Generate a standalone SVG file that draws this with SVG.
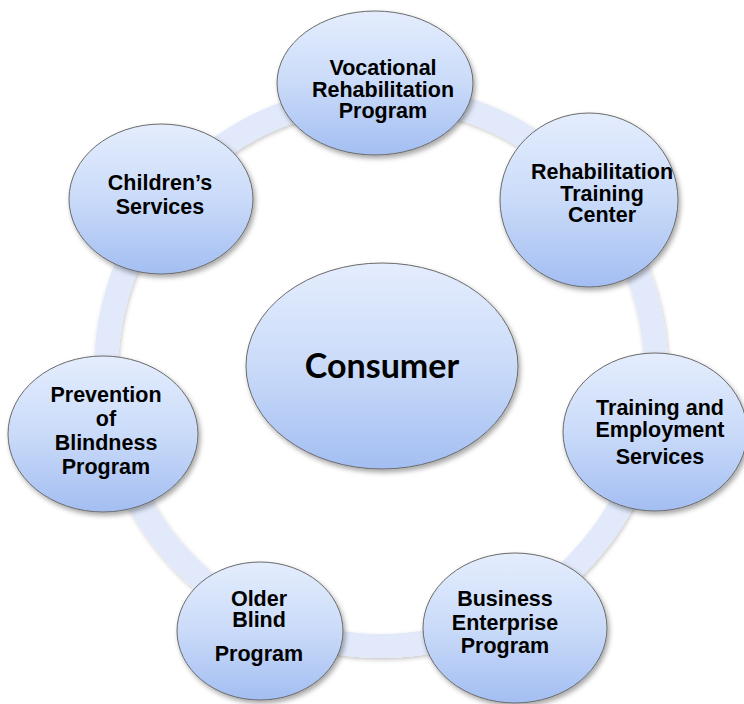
<svg xmlns="http://www.w3.org/2000/svg" width="744" height="704" viewBox="0 0 744 704">
<defs>
<linearGradient id="g" x1="0" y1="0" x2="0" y2="1">
<stop offset="0" stop-color="#e4edfd"/>
<stop offset="0.5" stop-color="#cadbf9"/>
<stop offset="1" stop-color="#a3bef2"/>
</linearGradient>
<filter id="sh" x="-20%" y="-20%" width="140%" height="140%">
<feDropShadow dx="2" dy="3" stdDeviation="2.5" flood-color="#000" flood-opacity="0.35"/>
</filter>
<filter id="rs" x="-10%" y="-10%" width="120%" height="120%">
<feDropShadow dx="1" dy="2" stdDeviation="2" flood-color="#000" flood-opacity="0.22"/>
</filter>
</defs>
<style>
.n{fill:url(#g);stroke:#6a6a6a;stroke-width:1;filter:url(#sh)}
.t{font-family:"Liberation Sans",Arial,sans-serif;font-weight:bold;font-size:21.5px;fill:#000;text-anchor:middle}
.c{font-family:Lato,"Open Sans",sans-serif;font-weight:bold;font-size:34px;fill:#000;text-anchor:middle}
</style>
<rect width="744" height="704" fill="#fff"/>
<g id="connectors">
<circle cx="381" cy="371" r="275" fill="none" stroke="#e1e9fb" stroke-width="24" filter="url(#rs)"/>
</g>
<g id="consumer">
<ellipse class="n" cx="382" cy="366" rx="136" ry="103"/>
<text class="c" x="382" y="378">Consumer</text>
</g>
<g id="vocational">
<ellipse class="n" cx="375" cy="83" rx="98" ry="72"/>
<text class="t" x="383" y="75">Vocational</text>
<text class="t" x="383" y="97">Rehabilitation</text>
<text class="t" x="383" y="118">Program</text>
</g>
<g id="rehab-training">
<ellipse class="n" cx="589" cy="200" rx="89" ry="87"/>
<text class="t" x="602" y="179">Rehabilitation</text>
<text class="t" x="602" y="201">Training</text>
<text class="t" x="602" y="222">Center</text>
</g>
<g id="training-employment">
<ellipse class="n" cx="655" cy="432" rx="92" ry="79"/>
<text class="t" x="660" y="415">Training and</text>
<text class="t" x="660" y="437">Employment</text>
<text class="t" x="660" y="464">Services</text>
</g>
<g id="business">
<ellipse class="n" cx="515" cy="628" rx="92" ry="75"/>
<text class="t" x="505" y="606">Business</text>
<text class="t" x="505" y="630">Enterprise</text>
<text class="t" x="505" y="653">Program</text>
</g>
<g id="older-blind">
<ellipse class="n" cx="260" cy="631" rx="83" ry="69"/>
<text class="t" x="259" y="606">Older</text>
<text class="t" x="259" y="627">Blind</text>
<text class="t" x="259" y="661">Program</text>
</g>
<g id="prevention">
<ellipse class="n" cx="103" cy="434" rx="95" ry="78"/>
<text class="t" x="106" y="402">Prevention</text>
<text class="t" x="106" y="426">of</text>
<text class="t" x="106" y="450">Blindness</text>
<text class="t" x="106" y="474">Program</text>
</g>
<g id="childrens">
<ellipse class="n" cx="161" cy="199" rx="92" ry="75"/>
<text class="t" x="160" y="190">Children’s</text>
<text class="t" x="160" y="214">Services</text>
</g>
</svg>
